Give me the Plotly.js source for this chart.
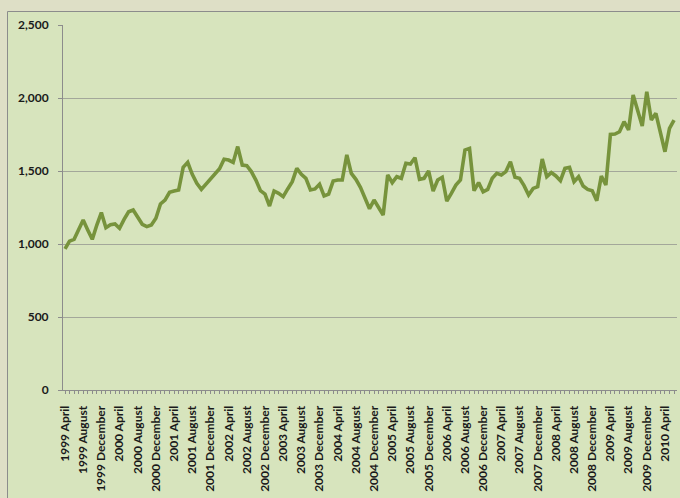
<!DOCTYPE html>
<html>
<head>
<meta charset="utf-8">
<script src="https://cdn.plot.ly/plotly-3.0.1.min.js"></script>
<style>
  html, body { margin: 0; padding: 0; background: #dedfc6; }
  #chart { width: 680px; height: 498px; }
</style>
</head>
<body>
<div id="chart"></div>
<script>
// Monthly series, April 1999 through June 2010
const monthNames = ['January', 'February', 'March', 'April', 'May', 'June',
  'July', 'August', 'September', 'October', 'November', 'December'];
const startYear = 1999;
const startMonth = 3; // April (zero-based)

const values = [
  966, 1020, 1032, 1100, 1164, 1096, 1032, 1130, 1215, 1112,
  1132, 1137, 1107, 1169, 1221, 1233, 1180, 1135, 1119, 1130,
  1176, 1274, 1301, 1354, 1363, 1370, 1525, 1559, 1477, 1415,
  1374, 1409, 1445, 1473, 1515, 1580, 1575, 1559, 1667, 1541,
  1537, 1496, 1438, 1365, 1342, 1260, 1363, 1347, 1324, 1377,
  1427, 1518, 1477, 1450, 1370, 1377, 1409, 1329, 1342, 1431,
  1438, 1438, 1610, 1484, 1443, 1388, 1320, 1242, 1301, 1250,
  1199, 1473, 1420, 1461, 1450, 1553, 1548, 1591, 1443, 1450,
  1500, 1363, 1438, 1457, 1294, 1347, 1404, 1438, 1644, 1655,
  1365, 1420, 1358, 1374, 1450, 1484, 1473, 1496, 1564, 1457,
  1450, 1400, 1336, 1381, 1393, 1582, 1461, 1489, 1466, 1434,
  1518, 1525, 1427, 1461, 1397, 1374, 1365, 1297, 1466, 1404,
  1751, 1753, 1769, 1838, 1781, 2020, 1913, 1808, 2043, 1849,
  1895, 1758, 1632, 1792, 1849
];

// Category labels such as "1999 April"
const categories = values.map((_, i) => {
  const m = startMonth + i;
  return (startYear + Math.floor(m / 12)) + ' ' + monthNames[m % 12];
});
const positions = categories.map((_, i) => i);

// Every fourth month carries a label
const labelStep = 4;
const tickPositions = positions.filter(i => i % labelStep === 0);
const tickLabels = tickPositions.map(i => categories[i]);

const yTicks = [0, 500, 1000, 1500, 2000, 2500];

const W = 680, H = 498;
const margin = { l: 63, r: 3, t: 25, b: 108 };
const pw = W - margin.l - margin.r;
const ph = H - margin.t - margin.b;
// pixel -> paper coordinates for the chart-area panel
const px = x => (x - margin.l) / pw;
const py = y => (H - margin.b - y) / ph;

const fontFamily = 'Lato, "Open Sans", sans-serif';
const labelFont = { family: fontFamily, size: 12, color: '#1a1a1a', weight: 'bold' };

const trace = {
  x: positions,
  y: values,
  text: categories,
  type: 'scatter',
  mode: 'lines',
  line: { color: '#77933c', width: 3.6 },
  hovertemplate: '%{text}: %{y:,}<extra></extra>'
};

const layout = {
  width: W,
  height: H,
  margin: margin,
  paper_bgcolor: '#dedfc6',
  plot_bgcolor: 'rgba(0,0,0,0)',
  showlegend: false,
  font: { family: fontFamily, size: 12, color: '#1a1a1a' },
  shapes: [{
    type: 'rect', xref: 'paper', yref: 'paper', layer: 'below',
    x0: px(7.5), x1: px(700), y0: py(520), y1: py(11.5),
    fillcolor: '#d7e4bd',
    line: { color: '#8c8c8c', width: 1 }
  }],
  xaxis: {
    range: [-0.44, 134.65],
    tickmode: 'array',
    tickvals: tickPositions,
    ticktext: tickLabels,
    tickangle: -90,
    ticks: 'outside',
    ticklen: 3,
    tickcolor: '#8c8c8c',
    minor: { dtick: 1, tick0: 0, ticks: 'outside', ticklen: 3, tickcolor: '#8c8c8c', showgrid: false },
    showgrid: false,
    zeroline: false,
    showline: true,
    linecolor: '#8c8c8c',
    linewidth: 1,
    ticklabelstandoff: 7,
    tickfont: labelFont,
    fixedrange: true
  },
  yaxis: {
    range: [0, 2500],
    tickmode: 'array',
    tickvals: yTicks,
    tickformat: ',d',
    ticks: 'outside',
    ticklen: 4,
    tickcolor: '#8c8c8c',
    showgrid: true,
    gridcolor: '#a3a79a',
    gridwidth: 1,
    zeroline: false,
    showline: true,
    linecolor: '#8c8c8c',
    linewidth: 1,
    ticklabelstandoff: 7,
    tickfont: labelFont,
    fixedrange: true
  }
};

Plotly.newPlot('chart', [trace], layout, { displayModeBar: false, staticPlot: true });
</script>
</body>
</html>
